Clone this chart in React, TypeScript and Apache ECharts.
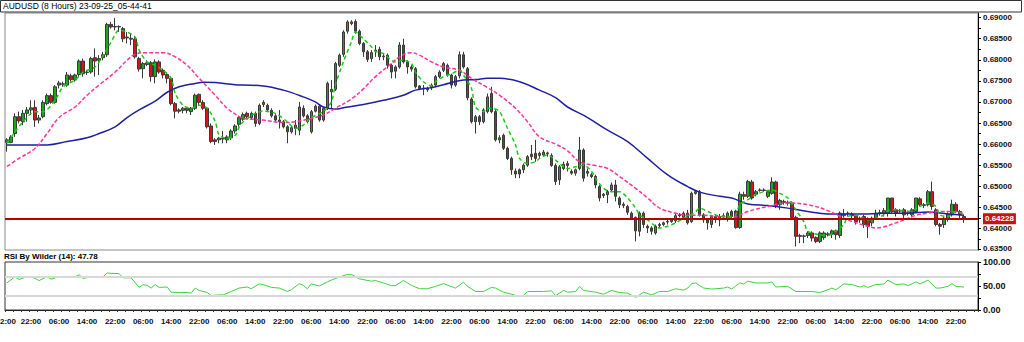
import React, { useEffect, useRef } from "react";
import * as echarts from "echarts";

// [open, close, low, high] for each 8-hour bar
const candles: number[][] = [
  [0.6604,0.6610,0.6582,0.6614],[0.6604,0.6617,0.6602,0.6621],[0.6625,0.6665,0.6617,0.6673],[0.6665,0.6655,0.6649,0.6677],[0.6653,0.6673,0.6645,0.6681],
  [0.6673,0.6681,0.6653,0.6688],[0.6681,0.6686,0.6669,0.6704],[0.6687,0.6657,0.6641,0.6704],[0.6657,0.6662,0.6649,0.6669],[0.6665,0.6699,0.6661,0.6704],
  [0.6696,0.6715,0.6692,0.6720],[0.6715,0.6699,0.6696,0.6720],[0.6699,0.6736,0.6696,0.6740],[0.6740,0.6745,0.6732,0.6750],[0.6742,0.6743,0.6736,0.6748],
  [0.6740,0.6764,0.6736,0.6771],[0.6762,0.6753,0.6748,0.6767],[0.6752,0.6764,0.6748,0.6767],[0.6765,0.6797,0.6760,0.6801],[0.6797,0.6767,0.6760,0.6803],
  [0.6770,0.6771,0.6764,0.6775],[0.6771,0.6803,0.6767,0.6807],[0.6805,0.6797,0.6760,0.6827],[0.6799,0.6803,0.6764,0.6811],[0.6805,0.6812,0.6799,0.6819],
  [0.6812,0.6884,0.6807,0.6888],[0.6884,0.6878,0.6874,0.6890],[0.6878,0.6879,0.6870,0.6899],[0.6879,0.6878,0.6866,0.6882],[0.6874,0.6850,0.6842,0.6878],
  [0.6854,0.6852,0.6839,0.6866],[0.6851,0.6849,0.6835,0.6862],[0.6849,0.6807,0.6803,0.6854],[0.6803,0.6778,0.6772,0.6807],[0.6779,0.6791,0.6756,0.6795],
  [0.6789,0.6793,0.6785,0.6799],[0.6793,0.6760,0.6748,0.6797],[0.6760,0.6795,0.6744,0.6801],[0.6795,0.6771,0.6767,0.6799],[0.6775,0.6764,0.6756,0.6779],
  [0.6765,0.6756,0.6744,0.6771],[0.6756,0.6696,0.6692,0.6760],[0.6696,0.6678,0.6661,0.6700],[0.6681,0.6678,0.6673,0.6685],[0.6680,0.6685,0.6673,0.6688],
  [0.6685,0.6680,0.6673,0.6688],[0.6677,0.6685,0.6669,0.6688],[0.6685,0.6716,0.6681,0.6720],[0.6718,0.6699,0.6692,0.6720],[0.6699,0.6685,0.6681,0.6704],
  [0.6685,0.6641,0.6637,0.6688],[0.6643,0.6606,0.6602,0.6649],[0.6610,0.6606,0.6598,0.6614],[0.6610,0.6614,0.6602,0.6617],[0.6614,0.6612,0.6602,0.6631],
  [0.6610,0.6617,0.6602,0.6621],[0.6615,0.6631,0.6610,0.6635],[0.6631,0.6643,0.6625,0.6647],[0.6647,0.6663,0.6641,0.6667],[0.6659,0.6670,0.6655,0.6675],
  [0.6673,0.6665,0.6659,0.6677],[0.6663,0.6673,0.6657,0.6677],[0.6673,0.6649,0.6641,0.6677],[0.6649,0.6692,0.6645,0.6696],[0.6694,0.6699,0.6688,0.6704],
  [0.6692,0.6681,0.6677,0.6696],[0.6680,0.6667,0.6663,0.6685],[0.6667,0.6657,0.6653,0.6671],[0.6653,0.6657,0.6637,0.6681],[0.6653,0.6641,0.6637,0.6657],
  [0.6641,0.6629,0.6602,0.6645],[0.6629,0.6639,0.6625,0.6643],[0.6637,0.6645,0.6621,0.6657],[0.6633,0.6688,0.6621,0.6700],[0.6685,0.6667,0.6663,0.6692],
  [0.6667,0.6653,0.6649,0.6671],[0.6629,0.6677,0.6625,0.6681],[0.6678,0.6690,0.6675,0.6694],[0.6690,0.6657,0.6653,0.6694],[0.6657,0.6685,0.6653,0.6688],
  [0.6685,0.6744,0.6681,0.6748],[0.6724,0.6730,0.6685,0.6752],[0.6730,0.6791,0.6726,0.6795],[0.6787,0.6811,0.6783,0.6815],[0.6813,0.6866,0.6807,0.6870],
  [0.6868,0.6890,0.6862,0.6894],[0.6886,0.6890,0.6882,0.6894],[0.6891,0.6868,0.6862,0.6896],[0.6868,0.6839,0.6835,0.6872],[0.6839,0.6819,0.6807,0.6842],
  [0.6819,0.6801,0.6795,0.6823],[0.6803,0.6817,0.6795,0.6823],[0.6823,0.6821,0.6807,0.6835],[0.6825,0.6807,0.6799,0.6831],[0.6807,0.6809,0.6799,0.6815],
  [0.6811,0.6787,0.6779,0.6815],[0.6787,0.6771,0.6756,0.6791],[0.6773,0.6783,0.6756,0.6787],[0.6783,0.6835,0.6779,0.6842],[0.6835,0.6795,0.6791,0.6850],
  [0.6795,0.6783,0.6767,0.6799],[0.6783,0.6778,0.6772,0.6787],[0.6779,0.6736,0.6732,0.6783],[0.6738,0.6732,0.6728,0.6740],[0.6733,0.6731,0.6716,0.6740],
  [0.6729,0.6733,0.6724,0.6736],[0.6733,0.6740,0.6728,0.6744],[0.6740,0.6760,0.6736,0.6764],[0.6760,0.6771,0.6756,0.6775],[0.6775,0.6791,0.6771,0.6795],
  [0.6787,0.6764,0.6760,0.6791],[0.6764,0.6740,0.6732,0.6767],[0.6740,0.6760,0.6736,0.6764],[0.6762,0.6812,0.6756,0.6820],[0.6812,0.6783,0.6779,0.6819],
  [0.6779,0.6710,0.6704,0.6783],[0.6707,0.6653,0.6649,0.6711],[0.6653,0.6665,0.6625,0.6669],[0.6665,0.6653,0.6645,0.6669],[0.6653,0.6681,0.6649,0.6685],
  [0.6677,0.6712,0.6673,0.6720],[0.6720,0.6677,0.6673,0.6736],[0.6677,0.6610,0.6606,0.6681],[0.6610,0.6615,0.6602,0.6621],[0.6621,0.6590,0.6586,0.6625],
  [0.6590,0.6566,0.6562,0.6594],[0.6566,0.6539,0.6527,0.6570],[0.6536,0.6529,0.6519,0.6542],[0.6539,0.6529,0.6519,0.6542],[0.6539,0.6550,0.6531,0.6554],
  [0.6550,0.6570,0.6546,0.6574],[0.6576,0.6570,0.6562,0.6598],[0.6578,0.6566,0.6558,0.6610],[0.6573,0.6578,0.6566,0.6582],[0.6574,0.6581,0.6570,0.6586],
  [0.6579,0.6577,0.6570,0.6582],[0.6573,0.6549,0.6546,0.6578],[0.6549,0.6511,0.6503,0.6554],[0.6515,0.6546,0.6503,0.6550],[0.6542,0.6552,0.6538,0.6558],
  [0.6554,0.6549,0.6535,0.6560],[0.6535,0.6531,0.6527,0.6540],[0.6531,0.6539,0.6525,0.6542],[0.6542,0.6586,0.6538,0.6617],[0.6586,0.6519,0.6511,0.6590],
  [0.6531,0.6535,0.6523,0.6542],[0.6527,0.6523,0.6519,0.6531],[0.6523,0.6503,0.6495,0.6527],[0.6499,0.6472,0.6464,0.6503],[0.6478,0.6481,0.6472,0.6484],
  [0.6480,0.6487,0.6460,0.6491],[0.6491,0.6503,0.6487,0.6509],[0.6503,0.6476,0.6464,0.6515],[0.6472,0.6456,0.6448,0.6476],[0.6457,0.6454,0.6448,0.6462],
  [0.6452,0.6438,0.6432,0.6456],[0.6436,0.6424,0.6420,0.6440],[0.6426,0.6394,0.6369,0.6428],[0.6393,0.6436,0.6381,0.6440],[0.6436,0.6409,0.6401,0.6440],
  [0.6405,0.6401,0.6389,0.6409],[0.6401,0.6393,0.6385,0.6405],[0.6389,0.6405,0.6385,0.6409],[0.6409,0.6407,0.6401,0.6413],[0.6409,0.6413,0.6405,0.6416],
  [0.6415,0.6416,0.6409,0.6420],[0.6416,0.6420,0.6413,0.6424],[0.6418,0.6430,0.6413,0.6434],[0.6430,0.6432,0.6426,0.6436],[0.6426,0.6436,0.6420,0.6440],
  [0.6436,0.6413,0.6409,0.6444],[0.6416,0.6483,0.6413,0.6487],[0.6483,0.6487,0.6480,0.6491],[0.6487,0.6432,0.6428,0.6491],[0.6432,0.6420,0.6413,0.6436],
  [0.6420,0.6413,0.6397,0.6424],[0.6409,0.6428,0.6401,0.6432],[0.6428,0.6424,0.6413,0.6432],[0.6420,0.6428,0.6405,0.6434],[0.6428,0.6430,0.6420,0.6436],
  [0.6424,0.6436,0.6416,0.6440],[0.6440,0.6428,0.6424,0.6444],[0.6441,0.6402,0.6399,0.6444],[0.6402,0.6481,0.6399,0.6487],[0.6480,0.6476,0.6468,0.6487],
  [0.6476,0.6511,0.6472,0.6515],[0.6510,0.6472,0.6468,0.6515],[0.6481,0.6487,0.6476,0.6491],[0.6490,0.6491,0.6487,0.6495],[0.6491,0.6490,0.6487,0.6495],
  [0.6476,0.6487,0.6472,0.6491],[0.6483,0.6510,0.6480,0.6521],[0.6510,0.6454,0.6448,0.6513],[0.6456,0.6466,0.6444,0.6470],[0.6464,0.6462,0.6456,0.6468],
  [0.6460,0.6462,0.6454,0.6466],[0.6460,0.6426,0.6420,0.6464],[0.6426,0.6381,0.6357,0.6430],[0.6383,0.6381,0.6365,0.6387],[0.6381,0.6382,0.6365,0.6385],
  [0.6383,0.6389,0.6377,0.6393],[0.6389,0.6377,0.6369,0.6393],[0.6378,0.6369,0.6365,0.6381],[0.6369,0.6389,0.6365,0.6393],[0.6378,0.6389,0.6373,0.6393],
  [0.6385,0.6387,0.6381,0.6391],[0.6386,0.6394,0.6377,0.6397],[0.6394,0.6385,0.6373,0.6397],[0.6383,0.6436,0.6377,0.6440],[0.6430,0.6434,0.6426,0.6446],
  [0.6436,0.6435,0.6428,0.6440],[0.6434,0.6430,0.6424,0.6438],[0.6430,0.6416,0.6409,0.6434],[0.6420,0.6424,0.6413,0.6428],[0.6428,0.6409,0.6401,0.6432],
  [0.6422,0.6405,0.6377,0.6426],[0.6413,0.6424,0.6405,0.6428],[0.6424,0.6436,0.6420,0.6444],[0.6436,0.6437,0.6430,0.6444],[0.6436,0.6442,0.6428,0.6448],
  [0.6436,0.6472,0.6428,0.6472],[0.6472,0.6440,0.6436,0.6472],[0.6444,0.6436,0.6428,0.6448],[0.6442,0.6441,0.6434,0.6446],[0.6444,0.6432,0.6424,0.6448],
  [0.6435,0.6437,0.6430,0.6442],[0.6432,0.6444,0.6426,0.6448],[0.6440,0.6472,0.6436,0.6472],[0.6470,0.6456,0.6452,0.6474],[0.6454,0.6456,0.6448,0.6460],
  [0.6456,0.6487,0.6452,0.6491],[0.6487,0.6452,0.6444,0.6511],[0.6444,0.6409,0.6405,0.6448],[0.6409,0.6405,0.6385,0.6413],[0.6409,0.6424,0.6401,0.6428],
  [0.6424,0.6434,0.6416,0.6438],[0.6432,0.6457,0.6428,0.6468],[0.6457,0.6440,0.6436,0.6462],[0.6440,0.6432,0.6424,0.6444],[0.6428,0.6423,0.6413,0.6432],
];

// Moving averages: [bar index, price]
const maFast: number[][] = [
  [0,0.6602],[2,0.6629],[4,0.6653],[7,0.6677],[9,0.6677],[12,0.6704],[14,0.6736],[17,0.6752],[19,0.6771],[22,0.6783],[24,0.6811],[26,0.6842],[28,0.6870],[30,0.6866],[32,0.6854],[33,0.6823],[35,0.6795],[37,0.6787],[39,0.6775],[41,0.6756],[42,0.6720],[44,0.6692],[46,0.6685],[48,0.6692],[50,0.6685],[52,0.6653],[53,0.6621],[55,0.6614],[57,0.6621],[58,0.6641],[59,0.6653],
  [62,0.6673],[64,0.6678],[67,0.6673],[70,0.6653],[72,0.6637],[74,0.6645],[76,0.6663],[79,0.6677],[81,0.6700],[82,0.6740],[84,0.6795],[86,0.6842],[87,0.6866],[89,0.6850],[91,0.6831],[92,0.6820],[94,0.6815],[96,0.6799],[97,0.6795],[99,0.6799],[101,0.6791],[102,0.6771],[104,0.6748],[106,0.6738],[107,0.6748],[109,0.6760],[111,0.6767],[113,0.6775],[114,0.6764],[116,0.6732],[117,0.6688],[119,0.6677],[120,0.6685],
  [121,0.6685],[123,0.6677],[125,0.6637],[127,0.6598],[128,0.6566],[130,0.6554],[132,0.6558],[133,0.6566],[135,0.6574],[137,0.6562],[139,0.6546],[140,0.6542],[142,0.6546],[144,0.6550],[146,0.6535],[147,0.6519],[149,0.6495],[151,0.6487],[153,0.6487],[155,0.6472],[157,0.6448],[158,0.6432],[160,0.6420],[162,0.6405],[163,0.6401],[165,0.6405],[167,0.6413],[169,0.6424],[170,0.6428],[172,0.6440],[173,0.6448],[175,0.6440],[177,0.6432],[178,0.6428],
  [181,0.6428],[182,0.6432],[183,0.6456],[185,0.6468],[187,0.6480],[189,0.6487],[191,0.6491],[193,0.6483],[195,0.6472],[197,0.6444],[199,0.6416],[200,0.6393],[203,0.6385],[205,0.6383],[207,0.6393],[209,0.6409],[210,0.6428],[212,0.6431],[215,0.6420],[217,0.6424],[219,0.6432],[220,0.6442],[222,0.6444],[225,0.6440],[228,0.6452],[230,0.6460],[232,0.6452],[233,0.6432],[235,0.6428],[237,0.6440],[239,0.6432],
];
const maMid: number[][] = [
  [0,0.6547],[3,0.6566],[7,0.6590],[10,0.6625],[13,0.6663],[17,0.6688],[20,0.6716],[23,0.6740],[27,0.6771],[30,0.6799],[32,0.6813],[35,0.6817],[39,0.6817],[42,0.6807],[45,0.6787],[48,0.6756],[52,0.6716],[55,0.6685],[58,0.6665],
  [59,0.6661],[64,0.6657],[69,0.6651],[72,0.6653],[76,0.6661],[79,0.6669],[82,0.6685],[86,0.6707],[89,0.6731],[92,0.6760],[96,0.6791],[98,0.6807],[101,0.6817],[103,0.6811],[106,0.6795],[109,0.6783],[113,0.6775],[116,0.6756],[120,0.6734],
  [123,0.6716],[127,0.6685],[130,0.6653],[133,0.6617],[137,0.6600],[140,0.6584],[143,0.6558],[147,0.6549],[150,0.6542],[153,0.6523],[157,0.6495],[160,0.6472],[163,0.6448],[167,0.6436],[170,0.6431],[174,0.6431],[178,0.6428],[181,0.6426],
  [185,0.6440],[190,0.6452],[195,0.6460],[200,0.6456],[205,0.6442],[210,0.6420],[215,0.6405],[217,0.6401],[222,0.6413],[227,0.6431],[230,0.6436],[233,0.6440],[236,0.6440],[239,0.6436],
];
const maSlow: number[][] = [
  [0,0.6598],[10,0.6598],[15,0.6606],[20,0.6615],[23,0.6625],[27,0.6641],[30,0.6663],[33,0.6681],[37,0.6702],[40,0.6723],[43,0.6736],[47,0.6744],[49,0.6747],[52,0.6746],[57,0.6741],[59,0.6740],
  [64,0.6738],[69,0.6728],[74,0.6712],[77,0.6700],[79,0.6688],[82,0.6683],[84,0.6686],[89,0.6694],[94,0.6704],[99,0.6716],[102,0.6728],[106,0.6734],[109,0.6741],[114,0.6752],[117,0.6753],[120,0.6756],
  [123,0.6756],[128,0.6748],[133,0.6728],[137,0.6710],[140,0.6688],[145,0.6663],[150,0.6633],[155,0.6606],[160,0.6566],[165,0.6527],[170,0.6499],[173,0.6486],[178,0.6476],[181,0.6472],
  [185,0.6458],[190,0.6454],[195,0.6448],[200,0.6440],[205,0.6434],[210,0.6434],[215,0.6434],[220,0.6436],[225,0.6436],[230,0.6439],[235,0.6434],[239,0.6431],
];

// RSI (14): [bar index, value]
const rsi: number[][] = [
  [0,56.4],[2,69.3],[3,63.6],[5,69.3],[6,70],[8,61.4],[10,69.3],[11,64.3],[13,69.3],[15,70],[17,68.6],[18,73.6],[19,65.7],[21,69.3],[23,69.3],[24,69.3],[25,77.1],[26,76.4],[28,75.7],[29,67.1],[31,67.1],[33,47.1],[34,52.9],[35,51.4],[36,45.7],[37,52.9],[38,47.1],[40,47.9],[41,37.1],[43,36.4],[45,36.4],[46,35],[47,45.7],[48,40.7],[50,36.4],[51,30],[53,31.4],[54,31.4],[56,38.6],[58,45.7],[60,47.9],[61,44.3],[63,54.3],[64,52.9],[66,47.1],[68,45.7],[70,38.6],[71,42.1],[73,55],[74,51.4],[75,44.3],[76,54.3],[78,50],[80,58.6],[82,65.7],[85,74.3],[86,74.3],[88,65],[91,60],[92,61.4],[94,56.4],[96,50.7],[97,50.7],[99,61.4],[101,51.4],[103,44.3],[105,44.3],[107,49.3],[109,55],[112,45.7],[114,57.9],[115,49.3],[117,38.6],[119,38.6],[121,47.1],[122,45.7],[124,37.1],[126,32.9],
  [128,27.9],[129,30],[130,38.6],[134,38.6],[136,40],[137,30],[139,40.7],[140,37.1],[142,38.6],[143,49.3],[144,40.7],[147,37.1],[149,32.9],[151,40.7],[153,36.4],[155,35],[157,26.4],[159,37.1],[161,31.4],[163,38.6],[165,38.6],[167,44.3],[169,41.4],[170,45.7],[171,55],[172,56.4],[174,45.7],[176,43.6],[179,45.7],[180,47.9],[181,43.6],[183,56.4],[184,54.3],[185,60],[187,56.4],[190,56.4],[191,58.6],[192,47.9],[195,49.3],[197,38.6],[201,38.6],[203,36.4],[205,42.1],[206,45.7],[207,42.1],[209,54.3],[211,52.9],[213,47.9],[214,50.7],[215,47.1],[217,52.9],[219,54.3],[220,62.1],[222,52.9],[224,54.3],[225,50.7],[227,58.6],[228,54.3],[230,62.1],[232,45.7],[233,45.7],[235,49.3],[236,55],[237,49.3],[239,47.78],
];
const rsiLevels = [70, 30];
const lastPrice = 0.64228;
const priceMin = 0.63486;
const priceMax = 0.69111;
const priceTicks = [0.635, 0.64, 0.645, 0.65, 0.655, 0.66, 0.665, 0.67, 0.675, 0.68, 0.685, 0.69];
const priceTickMarks = [
  0.635, 0.6375, 0.64, 0.6425, 0.645, 0.6475, 0.65, 0.6525, 0.655, 0.6575, 0.66, 0.6625,
  0.665, 0.6675, 0.67, 0.6725, 0.675, 0.6775, 0.68, 0.6825, 0.685, 0.6875, 0.69,
];
const rsiTicks = [0, 50, 100];
const slotCount = 243; // 240 bars + empty space on the right
const firstLabelBar = 6;
const labelEvery = 7;
const tickLabels = [
  "22:00","06:00","14:00","22:00","06:00","14:00","22:00","06:00","14:00","22:00","06:00","14:00",
  "22:00","06:00","14:00","22:00","06:00","14:00","22:00","06:00","14:00","22:00","06:00","14:00",
  "22:00","06:00","14:00","22:00","06:00","14:00","22:00","06:00","14:00","22:00",
];
const titleText = "AUDUSD (8 Hours) 23-09-25_05-44-41";
const rsiTitle = "RSI By Wilder (14): 47.78";

const FONT = '"Liberation Sans", Arial, sans-serif';
const GRID_TOP = 13;
const GRID_H = 237;
const GRID_RIGHT = 46;
const WIDTH = 1024;

export default function App() {
  const ref = useRef<HTMLDivElement>(null);
  useEffect(() => {
    document.body.style.margin = "0";
    if (!ref.current) return;
    const chart = echarts.init(ref.current, undefined, { renderer: "svg" });
    const cats = Array.from({ length: slotCount }, (_, i) => "b" + i);
    const isLabelBar = (i: number) => i >= firstLabelBar && (i - firstLabelBar) % labelEvery === 0;
    const labelStyle = { fontFamily: FONT, fontWeight: "bold" as const, fontSize: 8, color: "#111" };
    const fmtPrice = (v: number) => v.toFixed(5);
    // pixel row of the lowest price tick, from the pane's linear price scale
    const minTickY = GRID_TOP + GRID_H * (priceMax - priceTicks[0]) / (priceMax - priceMin);
    chart.setOption({
      animation: false,
      backgroundColor: "#fff",
      grid: [
        { left: 5, right: GRID_RIGHT, top: GRID_TOP, height: GRID_H, show: true, borderColor: "#8a8a8a", borderWidth: 1 },
        { left: 5, right: GRID_RIGHT, top: 262, height: 48, show: true, borderColor: "#333", borderWidth: 1 },
      ],
      xAxis: [
        {
          type: "category", gridIndex: 0, data: cats, boundaryGap: true,
          axisLine: { show: false }, axisTick: { show: false }, axisLabel: { show: false }, splitLine: { show: false },
        },
        {
          type: "category", gridIndex: 1, data: cats, boundaryGap: true,
          axisLine: { show: true, lineStyle: { color: "#222", width: 1 } },
          axisTick: { show: true, interval: 1, length: 2, lineStyle: { color: "#333" } },
          axisLabel: {
            ...labelStyle, margin: 7,
            interval: (i: number) => isLabelBar(i),
            formatter: (_v: string, i: number) => (isLabelBar(i) ? tickLabels[(i - firstLabelBar) / labelEvery] || "" : ""),
          },
          splitLine: { show: false },
        },
      ],
      yAxis: [
        {
          type: "value", gridIndex: 0, position: "right", min: priceMin, max: priceMax,
          axisLine: { show: true, lineStyle: { color: "#000", width: 1 } },
          axisTick: { show: true, length: 3, customValues: priceTickMarks, lineStyle: { color: "#000" } },
          splitLine: { show: false },
          axisLabel: { ...labelStyle, margin: 5, customValues: priceTicks.slice(1), formatter: fmtPrice },
        },
        {
          type: "value", gridIndex: 1, position: "right", min: 0, max: 100,
          axisLine: { show: true, lineStyle: { color: "#000", width: 1 } },
          axisTick: { show: true, length: 3, customValues: [0, 25, 50, 75, 100], lineStyle: { color: "#000" } },
          splitLine: { show: false },
          axisLabel: { ...labelStyle, fontSize: 9, margin: 5, customValues: rsiTicks, formatter: (v: number) => v.toFixed(2) },
        },
      ],
      series: [
        {
          type: "candlestick", xAxisIndex: 0, yAxisIndex: 0, data: candles, barWidth: 3,
          itemStyle: { color: "#19a819", color0: "#e01010", borderColor: "#3a3a3a", borderColor0: "#3a3a3a", borderWidth: 1 },
        },
        {
          type: "line", xAxisIndex: 0, yAxisIndex: 0, data: maSlow, symbol: "none", smooth: 0.4,
          lineStyle: { color: "#1f1fa3", width: 1.5 }, silent: true, z: 3,
          markLine: {
            silent: true, symbol: "none", animation: false, precision: 5,
            lineStyle: { color: "#b30000", width: 2, type: "solid" },
            label: {
              show: true, position: "end", distance: 5, formatter: () => fmtPrice(lastPrice),
              color: "#fff", backgroundColor: "#cc1111", fontFamily: FONT, fontWeight: "bold", fontSize: 8, padding: [2, 2, 1, 2],
            },
            data: [{ yAxis: lastPrice }],
          },
        },
        {
          type: "line", xAxisIndex: 0, yAxisIndex: 0, data: maMid, symbol: "none", smooth: 0.4,
          lineStyle: { color: "#ff3399", width: 1.5, type: [4, 2] }, silent: true, z: 3,
        },
        {
          type: "line", xAxisIndex: 0, yAxisIndex: 0, data: maFast, symbol: "none", smooth: 0.3,
          lineStyle: { color: "#19c919", width: 1.5, type: [4, 3] }, silent: true, z: 3,
        },
        {
          type: "line", xAxisIndex: 1, yAxisIndex: 1, data: rsi, symbol: "none",
          lineStyle: { color: "#3fd23f", width: 1 }, silent: true,
          markLine: {
            silent: true, symbol: "none", animation: false, label: { show: false },
            lineStyle: { color: "#d8d8d8", width: 2, type: "solid" },
            data: rsiLevels.map((v) => ({ yAxis: v })),
          },
        },
      ],
      graphic: [
        { type: "rect", z: 100, shape: { x: 0.5, y: 0.5, width: 1021, height: 11.5 }, style: { fill: "#fff", stroke: "#333", lineWidth: 1 } },
        { type: "text", z: 101, x: 3, y: 1.5, style: { text: titleText, font: `8.5px ${FONT}`, fill: "#000" } },
        { type: "text", z: 101, x: 4, y: 252, style: { text: rsiTitle, font: `bold 8px ${FONT}`, fill: "#000" } },
        { type: "text", z: 101, x: 0, y: 317, style: { text: "2:00", font: `bold 8px ${FONT}`, fill: "#111" } },
        {
          type: "text", z: 101, x: WIDTH - GRID_RIGHT + 5, y: minTickY - 4.5,
          style: { text: fmtPrice(priceTicks[0]), font: `bold 8px ${FONT}`, fill: "#111" },
        },
      ],
    });
    return () => chart.dispose();
  }, []);
  return <div ref={ref} style={{ width: 1024, height: 342 }} />;
}
